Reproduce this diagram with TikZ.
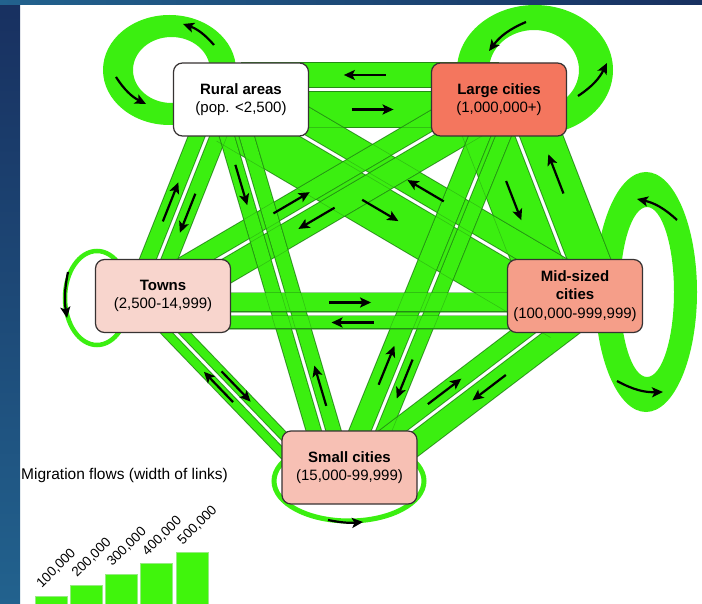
\documentclass[tikz,border=0pt]{standalone}
\usepackage{fontspec}
\setmainfont{Liberation Sans}
\usetikzlibrary{calc,arrows.meta}
\definecolor{flowgreen}{RGB}{59,239,16}
\definecolor{flowedge}{RGB}{35,140,20}
\definecolor{bargreen}{RGB}{64,245,12}
\definecolor{barline}{RGB}{150,235,130}
\definecolor{boxline}{RGB}{55,50,50}
\definecolor{largefill}{RGB}{244,118,94}
\definecolor{midfill}{RGB}{245,158,137}
\definecolor{smallfill}{RGB}{247,192,180}
\definecolor{townfill}{RGB}{248,213,205}
\definecolor{bluedark}{RGB}{24,48,96}
\definecolor{bluemid}{RGB}{34,98,142}
\tikzset{
  citybox/.style={draw=boxline, line width=1.2pt, rounded corners=9pt,
    minimum width=135pt, minimum height=73pt, align=center, inner sep=0pt,
    font=\fontsize{15}{18.5}\selectfont},
  flowarrow/.style={draw=black, line width=2.2pt,
    -{Stealth[length=11pt,width=10pt,inset=2.5pt]}},
  looparrow/.style={flowarrow},
  flowline/.style={draw=flowedge, line width=0.6pt, opacity=0.45},
}
% #1 name, #2 from, #3 to, #4 width, #5 side angle, #6 arrow position
\newcommand\flow[6]{%
  \pgfmathsetlengthmacro\flowoff{2.5pt+0.5*#4pt}%
  \pgfmathsetlengthmacro\flowhalf{0.5*#4pt+0.7pt}%
  \path ($(#2)!\flowoff!#5:(#3)$) coordinate (#1-a);
  \path ($(#1-a)+(#3)-(#2)$) coordinate (#1-b);
  \draw[flowedge, line width=#4pt+1.4pt] (#1-a) -- (#1-b);
  \draw[flowgreen, line width=#4pt] (#1-a) -- (#1-b);
  \path ($(#1-a)!#6!(#1-b)$) coordinate (#1-m);
  \path ($(#1-m)!21pt!(#1-a)$) coordinate (#1-t);
  \path ($(#1-m)!21pt!(#1-b)$) coordinate (#1-h);
  \path ($(#1-a)!\flowhalf!90:(#1-b)$) coordinate (#1-e1);
  \path ($(#1-a)!\flowhalf!-90:(#1-b)$) coordinate (#1-e2);
  \path ($(#1-e1)+(#1-b)-(#1-a)$) coordinate (#1-f1);
  \path ($(#1-e2)+(#1-b)-(#1-a)$) coordinate (#1-f2);
}
\begin{document}
\begin{tikzpicture}[x=1pt,y=-1pt]
\useasboundingbox (0,0) rectangle (702,604);
\clip (0,0) rectangle (702,604);
\fill[white] (0,0) rectangle (702,604);

% node centres
\coordinate (R) at (241,99.5);
\coordinate (L) at (499,99.5);
\coordinate (T) at (163,296);
\coordinate (M) at (575,296);
\coordinate (S) at (349.5,467.5);

% self loops
\fill[flowgreen, even odd rule] (169.5,70) ellipse [x radius=66.5, y radius=55]
  (171.5,70) ellipse [x radius=38.5, y radius=33];
\fill[flowgreen, even odd rule] (535,70) ellipse [x radius=78, y radius=65]
  (534,70) ellipse [x radius=45, y radius=40];
\fill[flowgreen, even odd rule] (646,292) ellipse [x radius=51, y radius=120]
  (647,292) ellipse [x radius=27, y radius=85];
\draw[flowgreen, line width=4.5pt] (97,298) ellipse [x radius=32, y radius=47];
\draw[flowgreen, line width=5pt] (349,481) ellipse [x radius=75, y radius=40];

% pair base lines
\coordinate (rlP) at ($(R)+(0,-10)$);   \coordinate (rlQ) at ($(L)+(0,-10)$);
\coordinate (tmP) at ($(T)+(0,18)$);    \coordinate (tmQ) at ($(M)+(0,18)$);
\coordinate (tlP) at ($(T)+(0,-4.5)$);  \coordinate (tlQ) at ($(L)+(0,-5)$);
\coordinate (rtP) at ($(R)+(-19,0)$);   \coordinate (rtQ) at ($(T)+(-19,0)$);
\coordinate (rsP) at ($(R)+(-15,0)$);   \coordinate (rsQ) at ($(S)+(-15,0)$);
\coordinate (lsP) at ($(L)+(9,0)$);     \coordinate (lsQ) at ($(S)+(9,0)$);
\coordinate (lmP) at ($(L)+(4,0)$);     \coordinate (lmQ) at ($(M)+(4,0)$);
\coordinate (msP) at ($(M)+(4.5,6)$);   \coordinate (msQ) at ($(S)+(4.5,6)$);
\coordinate (tsP) at ($(T)+(-23,0)$);   \coordinate (tsQ) at ($(S)+(-44.5,0)$);

% flows
\flow{rl}{rlP}{rlQ}{35}{-90}{0.51}
\flow{lr}{rlQ}{rlP}{24}{-90}{0.52}
\flow{lm}{lmP}{lmQ}{48}{-90}{0.466}
\flow{ml}{lmQ}{lmP}{40}{-90}{0.58}
\flow{rm}{R}{M}{45}{-90}{0.455}
\flow{mr}{M}{R}{25}{-90}{0.47}
\flow{tl}{tlP}{tlQ}{18}{90}{0.40}
\flow{lt}{tlQ}{tlP}{24}{90}{0.565}
\flow{rt}{rtP}{rtQ}{15}{90}{0.56}
\flow{tr}{rtQ}{rtP}{15}{90}{0.46}
\flow{rs}{rsP}{rsQ}{14}{-90}{0.225}
\flow{sr}{rsQ}{rsP}{14}{-90}{0.215}
\flow{ls}{lsP}{lsQ}{14}{90}{0.75}
\flow{sl}{lsQ}{lsP}{20}{90}{0.265}
\flow{tm}{tmP}{tmQ}{18}{90}{0.454}
\flow{mt}{tmQ}{tmP}{12}{90}{0.54}
\flow{sm}{msQ}{msP}{16}{90}{0.43}
\flow{ms}{msP}{msQ}{22}{90}{0.437}
\flow{ts}{tsP}{tsQ}{8}{90}{0.554}
\flow{st}{tsQ}{tsP}{8}{90}{0.496}

% band edges seen through crossings
\foreach \n in {rl,lr,lm,ml,rm,mr,tl,lt,rt,tr,rs,sr,ls,sl,tm,mt,sm,ms,ts,st}{
  \draw[flowline] (\n-e1) -- (\n-f1);
  \draw[flowline] (\n-e2) -- (\n-f2);
}

\foreach \n in {rl,lr,lm,ml,rm,mr,tl,lt,rt,tr,rs,sr,ls,sl,tm,mt,sm,ms,ts,st}
  \draw[flowarrow] (\n-t) -- (\n-h);

% loop arrows
\draw[looparrow] (214,45) to[bend right=15] (183,24);
\draw[looparrow] (116,77) to[bend right=15] (146,104);
\draw[looparrow] (526,22) to[bend right=15] (489,51);
\draw[looparrow] (578,96) to[bend right=15] (607,63);
\draw[looparrow] (677,220) to[bend right=15] (637,199);
\draw[looparrow] (617,381) to[bend right=15] (663,392);
\draw[looparrow] (68,272) to[bend right=10] (67,318);
\draw[looparrow] (328,520) to[bend right=8] (363,522);

% boxes
\node[citybox, fill=white] (Rbox) at (R) {\textbf{Rural areas}\\(pop. <2,500)};
\node[citybox, fill=largefill] (Lbox) at (L) {\textbf{Large cities}\\(1,000,000+)};
\node[citybox, fill=townfill] (Tbox) at (T) {\textbf{Towns}\\(2,500-14,999)};
\node[citybox, fill=midfill] (Mbox) at (M) {\textbf{Mid-sized}\\\textbf{cities}\\(100,000-999,999)};
\node[citybox, fill=smallfill] (Sbox) at (S) {\textbf{Small cities}\\(15,000-99,999)};

% legend
\node[anchor=west, inner sep=0pt, font=\fontsize{15.5}{18}\selectfont] (legtitle) at (21,475) {Migration flows (width of links)};
\foreach \i in {0,...,4}{
  \pgfmathsetmacro\bx{35+35.3*\i}
  \pgfmathsetmacro\bt{596-10.8*\i}
  \filldraw[fill=bargreen, draw=barline, line width=1pt] (\bx,\bt) rectangle ({\bx+32},608);
}
\tikzset{barlab/.style={rotate=45, anchor=south west, inner sep=0pt, font=\fontsize{13.5}{15}\selectfont}}
\node[barlab] (lab1) at (43,590) {100,000};
\node[barlab] (lab2) at (78.3,579.2) {200,000};
\node[barlab] (lab3) at (113.6,568.4) {300,000};
\node[barlab] (lab4) at (148.9,557.6) {400,000};
\node[barlab] (lab5) at (184.2,546.8) {500,000};

% frame strips
\shade[top color=bluedark, bottom color=bluemid] (0,0) rectangle (20,604);
\shade[left color=bluemid, right color=bluedark] (0,0) rectangle (702,5);
\end{tikzpicture}
\end{document}
